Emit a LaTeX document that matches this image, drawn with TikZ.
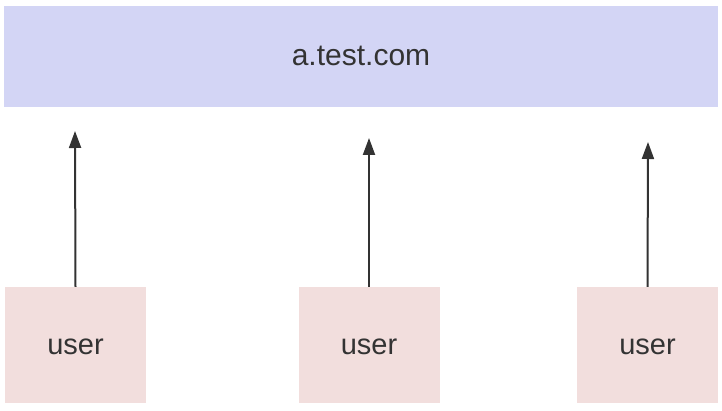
\documentclass[tikz,border=0pt]{standalone}
\usepackage{fontspec}
\setmainfont{Liberation Sans}
\usetikzlibrary{arrows.meta}
\definecolor{topfill}{HTML}{D3D5F5}
\definecolor{userfill}{HTML}{F2DEDD}
\definecolor{ink}{HTML}{333333}
\begin{document}
\begin{tikzpicture}[x=1pt,y=-1pt,
  userbox/.style={fill=userfill, draw=none, minimum width=141pt, minimum height=116pt, inner sep=0pt, text height=19pt, text depth=0pt, text=ink, font=\fontsize{29}{33}\selectfont},
  topbox/.style={fill=topfill, draw=none, minimum width=714pt, minimum height=101pt, inner sep=0pt, text height=19pt, text depth=0pt, text=ink, font=\fontsize{30}{34}\selectfont},
  conn/.style={draw=ink, line width=2pt, -{Triangle[length=17pt,width=12pt]}}]
\useasboundingbox (0,0) rectangle (722,411);
\node[topbox] (top) at (361,56.5) {a.test.com};
\node[userbox] (u1) at (75.5,345) {user};
\node[userbox] (u2) at (369,345) {user};
\node[userbox] (u3) at (647.5,345) {user};
\coordinate (e1) at (75,131);
\coordinate (e2) at (369,138);
\coordinate (e3) at (648,142);
\draw[conn] (u1.north) -- (e1);
\draw[conn] (u2.north) -- (e2);
\draw[conn] (u3.north) -- (e3);
\end{tikzpicture}
\end{document}
